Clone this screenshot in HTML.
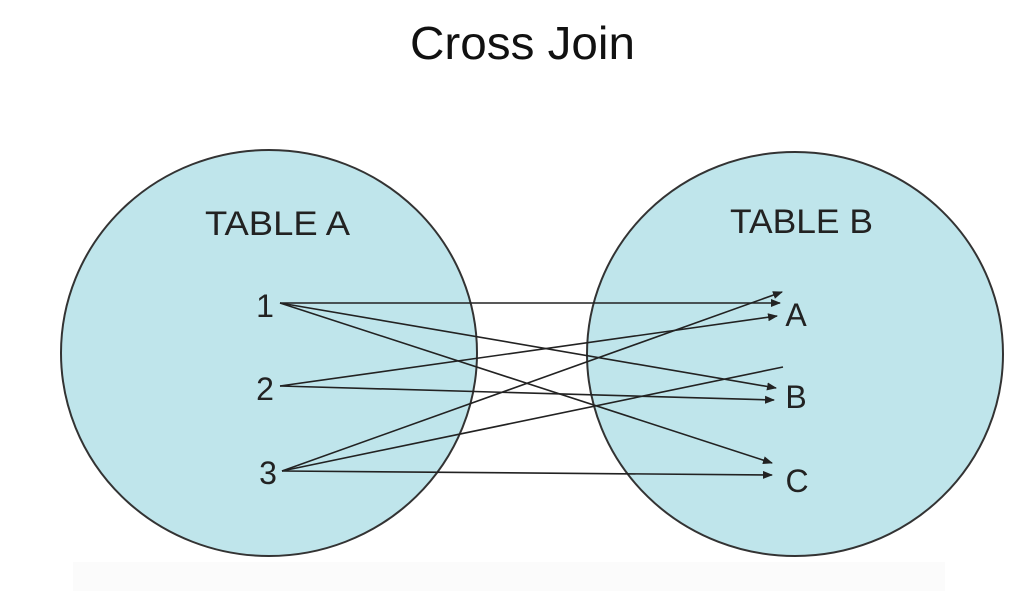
<!DOCTYPE html>
<html><head><style>
html,body{margin:0;padding:0;background:#fff;width:1024px;height:591px;overflow:hidden}
</style></head><body>
<svg width="1024" height="591" viewBox="0 0 1024 591" xmlns="http://www.w3.org/2000/svg">
<defs><marker id="ar" markerWidth="10" markerHeight="8" refX="9" refY="4" orient="auto" markerUnits="userSpaceOnUse"><path d="M0,0 L10,4 L0,8 z" fill="#222"/></marker></defs>
<text x="410" y="59" textLength="225" lengthAdjust="spacingAndGlyphs" font-family="Liberation Sans, sans-serif" font-size="46" fill="#111">Cross Join</text>
<rect x="73" y="562" width="872" height="29" fill="#fbfbfb"/>
<ellipse cx="269" cy="353" rx="208" ry="203" fill="#bfe5eb" stroke="#333" stroke-width="2"/>
<ellipse cx="795" cy="354" rx="208" ry="202" fill="#bfe5eb" stroke="#333" stroke-width="2"/>
<g font-family="Liberation Sans, sans-serif" fill="#222">
<text x="205" y="235" textLength="145" lengthAdjust="spacingAndGlyphs" font-size="34">TABLE  A</text>
<text x="730" y="233" textLength="143" lengthAdjust="spacingAndGlyphs" font-size="34">TABLE  B</text>
<text x="265" y="317" text-anchor="middle" font-size="32">1</text>
<text x="265" y="400" text-anchor="middle" font-size="32">2</text>
<text x="268" y="484" text-anchor="middle" font-size="32">3</text>
<text x="796" y="326" text-anchor="middle" font-size="32">A</text>
<text x="796" y="408" text-anchor="middle" font-size="32">B</text>
<text x="797" y="492" text-anchor="middle" font-size="32">C</text>
</g>
<g stroke="#222" stroke-width="1.6" fill="none">
<line x1="280" y1="303" x2="780" y2="303" marker-end="url(#ar)"/>
<line x1="280" y1="303" x2="776" y2="388" marker-end="url(#ar)"/>
<line x1="280" y1="303" x2="772" y2="463" marker-end="url(#ar)"/>
<line x1="280" y1="386" x2="777" y2="316" marker-end="url(#ar)"/>
<line x1="280" y1="386" x2="774" y2="400" marker-end="url(#ar)"/>
<line x1="282" y1="471" x2="782" y2="292" marker-end="url(#ar)"/>
<line x1="282" y1="471" x2="783" y2="367"/>
<line x1="282" y1="471" x2="772" y2="475" marker-end="url(#ar)"/>
</g>
</svg>
</body></html>
